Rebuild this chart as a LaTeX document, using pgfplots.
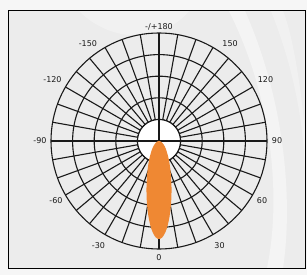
\documentclass[border=0pt]{standalone}
\usepackage{pgfplots}
\pgfplotsset{compat=1.18}
\usepackage{fontspec}
\setmainfont{DejaVu Sans}
\definecolor{lobe}{RGB}{239,136,51}
\definecolor{bgin}{RGB}{236,236,236}
\definecolor{bgout}{RGB}{246,246,246}
\begin{document}
\begin{tikzpicture}
% background and frame (origin = polar centre)
\fill[bgout] (-159pt,-134pt) rectangle (148pt,141pt);
\fill[bgin] (-150pt,-127pt) rectangle (146pt,130pt);
\fill[white, opacity=0.45] (70pt,130pt) .. controls (115pt,40pt) and (122pt,-60pt) .. (108pt,-127pt) -- (124pt,-127pt) .. controls (134pt,-60pt) and (126pt,40pt) .. (86pt,130pt) -- cycle;
\fill[white, opacity=0.3] (112pt,130pt) .. controls (140pt,60pt) and (146pt,0pt) .. (146pt,-40pt) -- (146pt,10pt) .. controls (140pt,70pt) and (132pt,110pt) .. (124pt,130pt) -- cycle;
\fill[white, opacity=0.3] (-80pt,130pt) .. controls (-50pt,100pt) and (0pt,95pt) .. (30pt,130pt) -- cycle;
\draw[black, line width=1pt] (-150pt,-127pt) rectangle (146pt,130pt);
% polar grid
\foreach \r in {21.6,43.2,64.8,86.4,108} \draw[black!90, line width=1.1pt] (0,0) circle[radius=\r pt];
\foreach \a in {0,10,...,350} \draw[black!90, line width=1.1pt] (\a:21.6pt) -- (\a:108pt);
\fill[white] (0,0) circle[radius=21.1pt];
\draw[black!90, line width=1.1pt] (-108pt,0) -- (108pt,0);
\draw[black!90, line width=1.1pt] (0,-108pt) -- (0,108pt);
\draw[black!90, line width=1.1pt] (0,0) circle[radius=21.6pt];
\begin{axis}[
  at={(-159pt,-134pt)}, anchor=south west,
  scale only axis, width=307pt, height=275pt,
  xmin=-7.3611, xmax=6.8519, ymin=-6.2037, ymax=6.5278,
  hide axis, clip=false]
% light distribution lobe
\addplot[fill=lobe, draw=none, data cs=polar, smooth] coordinates {
(-180,0) (-165,0.082) (-150,0.193) (-140,0.310) (-130,0.503) (-120,0.859)
(-115,1.157) (-110,1.595) (-105,2.238) (-102,2.743) (-100,3.123) (-98,3.520)
(-96,3.904) (-95,4.079) (-94,4.234) (-93,4.363) (-92,4.459) (-91,4.519) (-90,4.540)
(-89,4.519) (-88,4.459) (-87,4.363) (-86,4.234) (-85,4.079) (-84,3.904) (-82,3.520)
(-80,3.123) (-78,2.743) (-75,2.238) (-70,1.595) (-65,1.157) (-60,0.859)
(-50,0.503) (-40,0.310) (-30,0.193) (-15,0.082) (0,0)};
\end{axis}
% angle labels
\begin{scope}[font=\fontsize{8}{9}\selectfont, text=black!90]
\node at (-90:117pt) {0};
\node at (-60:121pt) {30};
\node at (-30:119pt) {60};
\node at (0:118pt) {90};
\node at (30:123pt) {120};
\node at (54:121pt) {150};
\node at (90:114pt) {-/+180};
\node at (126:121pt) {-150};
\node at (150:123pt) {-120};
\node at (180:119pt) {-90};
\node at (210:119pt) {-60};
\node at (240:121pt) {-30};
\end{scope}
\end{tikzpicture}
\end{document}
